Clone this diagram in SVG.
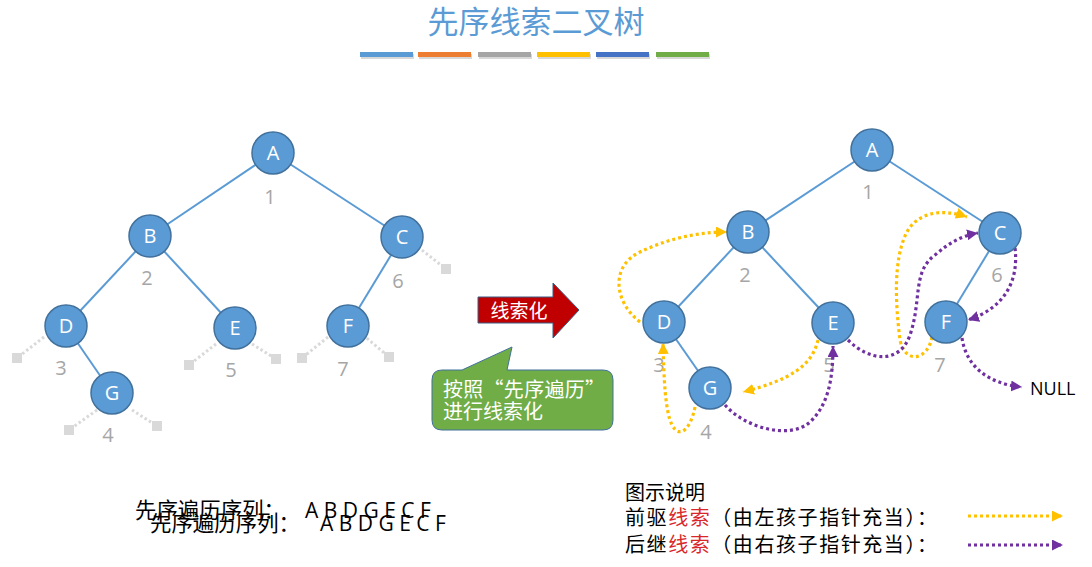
<svg xmlns="http://www.w3.org/2000/svg" width="1092" height="567" viewBox="0 0 1092 567" xml:lang="zh-CN">
<style>
.edge{stroke:#5b9bd5;stroke-width:2;fill:none}
.node circle{fill:#5b9bd5;stroke:#41719c;stroke-width:1.5}
.node text{fill:#fff;font-family:"Open Sans","Liberation Sans",sans-serif;font-size:20px;text-anchor:middle}
.num{fill:#a6a6a6;font-family:"Open Sans","Liberation Sans",sans-serif;font-size:20px;text-anchor:middle}
.nul line{stroke:#d9d9d9;stroke-width:3;stroke-dasharray:2.5 2.5}
.nul rect{fill:#d9d9d9}
.ty{stroke:#ffc000;stroke-width:3.2;stroke-dasharray:3 3;fill:none;marker-end:url(#ay)}
.tp{stroke:#7030a0;stroke-width:3.2;stroke-dasharray:3 3;fill:none;marker-end:url(#ap)}
.cjk{font-family:"Noto Sans CJK SC",sans-serif}
</style>
<defs>
<marker id="ay" viewBox="0 0 10 10" markerUnits="userSpaceOnUse" markerWidth="11" markerHeight="11" refX="10" refY="5" orient="auto"><path d="M0,0 L10,5 L0,10 Z" fill="#ffc000"/></marker>
<marker id="ap" viewBox="0 0 10 10" markerUnits="userSpaceOnUse" markerWidth="11" markerHeight="11" refX="10" refY="5" orient="auto"><path d="M0,0 L10,5 L0,10 Z" fill="#7030a0"/></marker>
</defs>
<rect width="1092" height="567" fill="#fff"/>

<g id="title">
<text x="536" y="33" class="cjk" font-size="31" fill="#5b9bd5" text-anchor="middle">先序线索二叉树</text>
<g fill="#bfbfbf" opacity="0.6">
<rect x="361" y="54" width="53" height="5"/><rect x="419" y="54" width="53" height="5"/><rect x="479" y="54" width="53" height="5"/><rect x="538" y="54" width="53" height="5"/><rect x="597" y="54" width="53" height="5"/><rect x="657" y="54" width="53" height="5"/>
</g>
<rect x="360" y="52" width="53" height="5" fill="#5b9bd5"/>
<rect x="418" y="52" width="53" height="5" fill="#ed7d31"/>
<rect x="478" y="52" width="53" height="5" fill="#a5a5a5"/>
<rect x="537" y="52" width="53" height="5" fill="#ffc000"/>
<rect x="596" y="52" width="53" height="5" fill="#4472c4"/>
<rect x="656" y="52" width="53" height="5" fill="#70ad47"/>
</g>

<!-- Left tree -->
<g id="left-edges">
<line class="edge" x1="273" y1="153" x2="150" y2="236"/>
<line class="edge" x1="273" y1="153" x2="402" y2="237"/>
<line class="edge" x1="150" y1="236" x2="66" y2="326"/>
<line class="edge" x1="150" y1="236" x2="235" y2="328"/>
<line class="edge" x1="402" y1="237" x2="348" y2="326"/>
<line class="edge" x1="66" y1="326" x2="112" y2="393"/>
</g>
<g id="left-nulls" class="nul">
<line x1="418" y1="247" x2="446" y2="269"/><rect x="441" y="264" width="10" height="10"/>
<line x1="44" y1="337" x2="17" y2="358"/><rect x="12" y="353" width="10" height="10"/>
<line x1="216" y1="344" x2="189" y2="365"/><rect x="184" y="360" width="10" height="10"/>
<line x1="252" y1="344" x2="276" y2="359"/><rect x="271" y="354" width="10" height="10"/>
<line x1="328" y1="337" x2="302" y2="358"/><rect x="297" y="353" width="10" height="10"/>
<line x1="363" y1="335" x2="389" y2="357"/><rect x="384" y="352" width="10" height="10"/>
<line x1="97" y1="410" x2="69" y2="430"/><rect x="64" y="425" width="10" height="10"/>
<line x1="132" y1="410" x2="157" y2="426"/><rect x="152" y="421" width="10" height="10"/>
</g>
<g id="L-A" class="node"><circle cx="273" cy="153" r="21"/><text x="273" y="160">A</text></g>
<g id="L-B" class="node"><circle cx="150" cy="236" r="21"/><text x="150" y="243">B</text></g>
<g id="L-C" class="node"><circle cx="402" cy="237" r="21"/><text x="402" y="244">C</text></g>
<g id="L-D" class="node"><circle cx="66" cy="326" r="21"/><text x="66" y="333">D</text></g>
<g id="L-E" class="node"><circle cx="235" cy="328" r="21"/><text x="235" y="335">E</text></g>
<g id="L-F" class="node"><circle cx="348" cy="326" r="21"/><text x="348" y="333">F</text></g>
<g id="L-G" class="node"><circle cx="112" cy="393" r="21"/><text x="112" y="400">G</text></g>
<g id="left-nums">
<text class="num" x="270" y="204">1</text>
<text class="num" x="147" y="285">2</text>
<text class="num" x="61" y="375">3</text>
<text class="num" x="108" y="442">4</text>
<text class="num" x="231" y="377">5</text>
<text class="num" x="398" y="288">6</text>
<text class="num" x="343" y="376">7</text>
</g>

<!-- Middle arrow and callout -->
<g id="arrow-block">
<polygon points="478,297 553,297 553,283 579,310 553,338 553,323 478,323" fill="#c00000" stroke="#3b5d85" stroke-width="1"/>
<text x="519" y="318" class="cjk" font-size="19" fill="#fff" text-anchor="middle">线索化</text>
</g>
<g id="callout">
<path d="M442,370 L462,370 L512,347 L507,370 L603,370 Q613,370 613,380 L613,420 Q613,430 603,430 L442,430 Q432,430 432,420 L432,380 Q432,370 442,370 Z" fill="#70ad47" stroke="#41719c" stroke-width="1"/>
<text class="cjk" font-size="20" fill="#fff"><tspan x="443" y="397" textLength="162" lengthAdjust="spacing">按照“先序遍历”</tspan><tspan x="443" y="419">进行线索化</tspan></text>
</g>

<!-- Right tree -->
<g id="right-edges">
<line class="edge" x1="872" y1="150" x2="748" y2="232"/>
<line class="edge" x1="872" y1="150" x2="1000" y2="233"/>
<line class="edge" x1="748" y1="232" x2="664" y2="322"/>
<line class="edge" x1="748" y1="232" x2="833" y2="323"/>
<line class="edge" x1="1000" y1="233" x2="946" y2="322"/>
<line class="edge" x1="664" y1="322" x2="710" y2="388"/>
</g>
<g id="right-nums">
<text class="num" x="868" y="199">1</text>
<text class="num" x="745" y="282">2</text>
<text class="num" x="659" y="372">3</text>
<text class="num" x="706" y="439">4</text>
<text class="num" x="829" y="372">5</text>
<text class="num" x="997" y="282">6</text>
<text class="num" x="940" y="372">7</text>
</g>
<g id="threads">
<path class="ty" d="M640,322 C614,302 610,266 640,252 C665,240 695,232 727,232"/>
<path class="ty" d="M695,407 C691,428 680,440 672,425 C665,410 664,380 663,343"/>
<path class="ty" d="M818,340 C812,366 790,380 743,392"/>
<path class="ty" d="M932,337 C928,360 905,365 900,340 C895,300 894,262 905,236 C915,212 942,208 967,217"/>
<path class="tp" d="M725,405 C745,428 790,440 810,422 C828,405 833,380 833,346"/>
<path class="tp" d="M848,340 C870,362 900,364 910,335 C922,300 912,272 935,255 C948,244 960,236 978,233"/>
<path class="tp" d="M1015,248 C1019,282 1004,308 968,320"/>
<path class="tp" d="M962,338 C966,366 988,384 1022,387"/>
</g>
<g id="R-A" class="node"><circle cx="872" cy="150" r="21"/><text x="872" y="157">A</text></g>
<g id="R-B" class="node"><circle cx="748" cy="232" r="21"/><text x="748" y="239">B</text></g>
<g id="R-C" class="node"><circle cx="1000" cy="233" r="21"/><text x="1000" y="240">C</text></g>
<g id="R-D" class="node"><circle cx="664" cy="322" r="21"/><text x="664" y="329">D</text></g>
<g id="R-E" class="node"><circle cx="833" cy="323" r="21"/><text x="833" y="330">E</text></g>
<g id="R-F" class="node"><circle cx="946" cy="322" r="21"/><text x="946" y="329">F</text></g>
<g id="R-G" class="node"><circle cx="710" cy="388" r="21"/><text x="710" y="395">G</text></g>
<text id="null-label" x="1030" y="395" font-family="'Open Sans','Liberation Sans',sans-serif" font-size="18" fill="#000">NULL</text>

<!-- Bottom sequence text -->
<g id="sequence" fill="#000">
<text x="135" y="518" class="cjk" font-size="22" textLength="150" lengthAdjust="spacingAndGlyphs">先序遍历序列：</text>
<text x="305" y="518" font-family="'Open Sans','Liberation Sans',sans-serif" font-size="21">A B D G E C F</text>
<text x="150" y="531" class="cjk" font-size="22" textLength="150" lengthAdjust="spacingAndGlyphs">先序遍历序列：</text>
<text x="320" y="531" font-family="'Open Sans','Liberation Sans',sans-serif" font-size="21">A B D G E C F</text>
</g>

<!-- Legend -->
<g id="legend" class="cjk" font-size="20" fill="#000">
<text x="625" y="500">图示说明</text>
<text x="625" y="525" textLength="312" lengthAdjust="spacing">前驱<tspan fill="#d9262a">线索</tspan>（由左孩子指针充当）：</text>
<text x="625" y="552" textLength="312" lengthAdjust="spacing">后继<tspan fill="#d9262a">线索</tspan>（由右孩子指针充当）：</text>
<line x1="968" y1="516" x2="1063" y2="516" class="ty"/>
<line x1="968" y1="545" x2="1063" y2="545" class="tp"/>
</g>
</svg>
